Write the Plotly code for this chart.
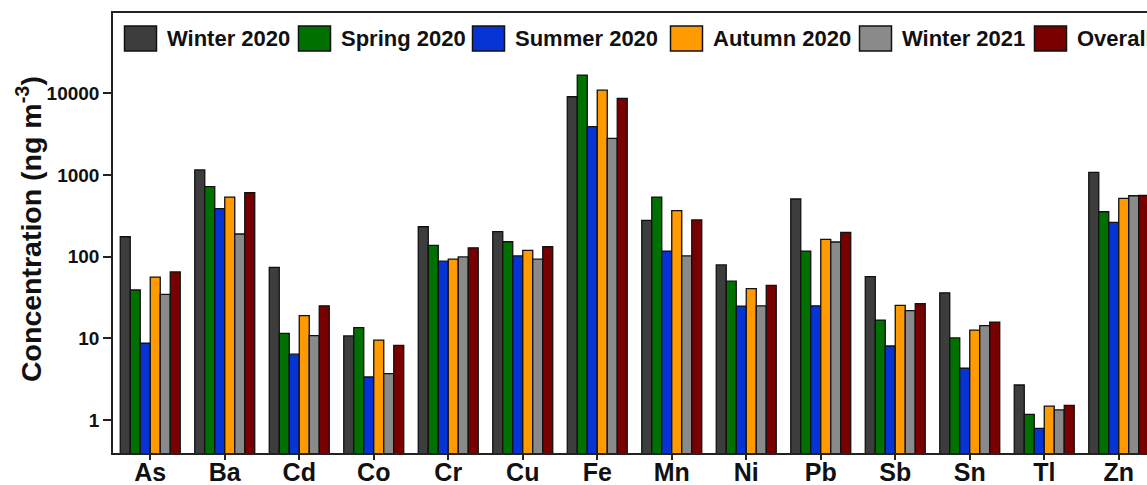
import plotly.graph_objects as go

# Element categories on the x axis
elements = ["As", "Ba", "Cd", "Co", "Cr", "Cu", "Fe", "Mn", "Ni", "Pb", "Sb", "Sn", "Tl", "Zn"]

# Seasonal mean concentrations (ng m-3)
winter_2020 = [175, 1150, 74, 10.7, 232, 202, 9060, 278, 79, 507, 57, 36, 2.68, 1076]
spring_2020 = [39, 718, 11.5, 13.5, 137, 152, 16700, 536, 50, 117, 16.7, 10.1, 1.17, 354]
summer_2020 = [8.7, 386, 6.4, 3.36, 88, 102, 3890, 117, 24.8, 25, 8.05, 4.3, 0.79, 263]
autumn_2020 = [56, 536, 18.9, 9.5, 93, 119, 10900, 365, 40.5, 163, 25.3, 12.6, 1.48, 517]
winter_2021 = [34.5, 189, 10.8, 3.7, 99, 93, 2800, 102, 25, 151, 21.8, 14.3, 1.33, 556]
overall = [65, 605, 25, 8.2, 128, 132, 8650, 281, 44.5, 198, 26.5, 15.8, 1.51, 560]

series_names = ["Winter 2020", "Spring 2020", "Summer 2020", "Autumn 2020", "Winter 2021", "Overall"]
series_values = [winter_2020, spring_2020, summer_2020, autumn_2020, winter_2021, overall]
series_colors = ["#3d3d3d", "#007000", "#0634d4", "#ff9a00", "#8a8a8a", "#780000"]

y_tick_vals = [1, 10, 100, 1000, 10000]
y_tick_text = ["1", "10", "100", "1000", "10000"]

FONT = "Liberation Sans, Arial, sans-serif"
W, H = 1147, 485
M_L, M_R, M_T, M_B = 113, 0, 13, 32
PW, PH = W - M_L - M_R, H - M_T - M_B


def px_x(px):
    return (px - M_L) / PW


def px_y(py):
    return (H - M_B - py) / PH


fig = go.Figure()
for name, vals, col in zip(series_names, series_values, series_colors):
    fig.add_trace(go.Bar(
        name=name, x=elements, y=vals,
        marker=dict(color=col, line=dict(color="#111111", width=1.3)),
        showlegend=False,
    ))

# Custom legend row with large square swatches
swatch_left = [124.5, 298.5, 472.5, 670.5, 859.5, 1034.5]
sw_w, sw_top, sw_bot = 32, 26, 51
shapes = []
annotations = []
for left, name, col in zip(swatch_left, series_names, series_colors):
    shapes.append(dict(
        type="rect", xref="paper", yref="paper",
        x0=px_x(left), x1=px_x(left + sw_w), y0=px_y(sw_bot), y1=px_y(sw_top),
        fillcolor=col, line=dict(color="#111111", width=1.5),
    ))
    annotations.append(dict(
        xref="paper", yref="paper", x=px_x(left + sw_w + 8), y=px_y((sw_top + sw_bot) / 2),
        xanchor="left", yanchor="middle", showarrow=False,
        text="<b>%s</b>" % name, font=dict(family=FONT, size=22, color="#111111"),
    ))

# Y axis title
annotations.append(dict(
    xref="paper", yref="paper", x=px_x(29), y=px_y(229),
    xanchor="center", yanchor="middle", showarrow=False, textangle=-90,
    text="<b>Concentration (ng m<sup>-3</sup>)</b>",
    font=dict(family=FONT, size=28.5, color="#111111"),
))

fig.update_layout(
    width=W, height=H,
    margin=dict(l=M_L, r=M_R, t=M_T, b=M_B, autoexpand=False),
    paper_bgcolor="white", plot_bgcolor="white",
    barmode="group", bargap=0.195, bargroupgap=0,
    shapes=shapes, annotations=annotations,
    font=dict(family=FONT, color="#111111"),
)
fig.update_xaxes(
    type="category", range=[-0.5, -0.5 + PW / 74.5],
    showline=True, linecolor="#222222", linewidth=1.5, mirror=True,
    ticks="outside", ticklen=5, tickwidth=1.5, tickcolor="#222222",
    tickfont=dict(family=FONT, size=25, color="#111111"),
    tickprefix="<b>", ticksuffix="</b>", ticklabelstandoff=-9,
    showgrid=False, automargin=False,
)
fig.update_yaxes(
    type="log", range=[-0.404, 4.982],
    tickvals=y_tick_vals, ticktext=["<b>%s</b>" % t for t in y_tick_text],
    showline=True, linecolor="#222222", linewidth=1.5,
    ticks="outside", ticklen=8, tickwidth=1.5, tickcolor="#222222",
    tickfont=dict(family=FONT, size=19, color="#111111"),
    showgrid=False, zeroline=False, automargin=False,
)

fig.write_html("out.html")
